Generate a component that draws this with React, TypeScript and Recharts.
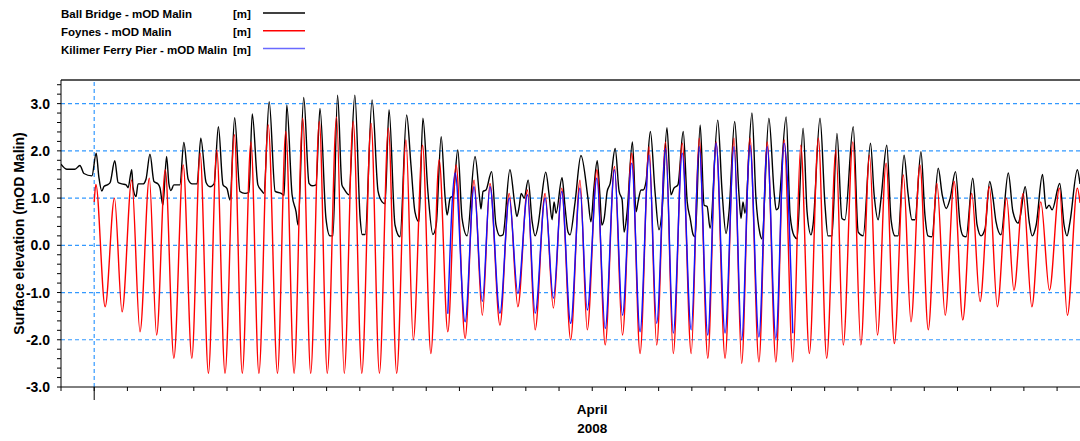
import { LineChart, Line, XAxis, YAxis, ReferenceLine } from 'recharts'

// time axis: days since 16 March 2008 00:00
const X_END = 30.69

// Ball Bridge - mOD Malin
const ballBridgeT = [
  0.0, 0.18, 0.42, 0.57, 0.69, 0.93, 1.06, 1.14, 1.23, 1.3, 1.42, 1.48, 1.62, 1.72, 1.84, 1.96, 2.02, 2.13,
  2.17, 2.26, 2.32, 2.47, 2.56, 2.68, 2.8, 2.92, 2.98, 3.07, 3.18, 3.25, 3.31, 3.4, 3.58, 3.7, 3.83, 3.95,
  4.1, 4.21, 4.37, 4.49, 4.61, 4.74, 4.88, 5.0, 5.09, 5.23, 5.39, 5.54, 5.66, 5.76, 5.93, 6.05, 6.11, 6.27,
  6.45, 6.63, 6.72, 6.8, 6.96, 7.08, 7.14, 7.31, 7.47, 7.56, 7.68, 7.8, 7.98, 8.1, 8.19, 8.33, 8.46, 8.52,
  8.67, 8.85, 9.01, 9.07, 9.16, 9.37, 9.55, 9.67, 9.76, 9.88, 10.06, 10.21, 10.41, 10.54, 10.66, 10.78,
  10.9, 11.05, 11.2, 11.3, 11.45, 11.57, 11.63, 11.72, 11.81, 11.95, 12.08, 12.23, 12.47, 12.62, 12.65,
  12.71, 12.8, 12.97, 13.1, 13.22, 13.31, 13.52, 13.67, 13.73, 13.8, 13.86, 13.95, 14.07, 14.19, 14.28,
  14.37, 14.46, 14.6, 14.7, 14.79, 14.85, 14.91, 15.09, 15.18, 15.27, 15.33, 15.48, 15.66, 15.87, 15.96,
  16.05, 16.15, 16.23, 16.29, 16.36, 16.45, 16.54, 16.69, 16.81, 16.9, 16.96, 17.05, 17.21, 17.32, 17.38,
  17.47, 17.53, 17.62, 17.75, 17.89, 18.01, 18.1, 18.25, 18.37, 18.46, 18.58, 18.74, 18.86, 18.95, 19.04,
  19.1, 19.25, 19.37, 19.46, 19.55, 19.78, 19.91, 20.03, 20.12, 20.29, 20.42, 20.48, 20.54, 20.6, 20.81,
  20.93, 21.05, 21.11, 21.32, 21.48, 21.54, 21.6, 21.84, 21.96, 22.08, 22.17, 22.35, 22.47, 22.59, 22.65,
  22.86, 23.01, 23.1, 23.22, 23.37, 23.52, 23.61, 23.86, 24.01, 24.16, 24.38, 24.49, 24.61, 24.7, 24.87,
  25.0, 25.12, 25.21, 25.39, 25.51, 25.63, 25.72, 25.9, 26.02, 26.11, 26.23, 26.42, 26.54, 26.66, 26.78,
  26.94, 27.08, 27.17, 27.26, 27.46, 27.59, 27.71, 27.83, 27.97, 28.07, 28.16, 28.31, 28.53, 28.67, 28.83,
  28.89, 29.04, 29.16, 29.25, 29.37, 29.56, 29.67, 29.76, 29.85, 30.08, 30.21, 30.3, 30.39, 30.61, 30.69,
]
const ballBridgeV = [
  1.72, 1.61, 1.61, 1.69, 1.52, 1.47, 1.95, 1.45, 1.15, 1.25, 1.29, 1.33, 1.79, 1.33, 1.3, 1.28, 1.22, 1.6,
  1.22, 1.03, 1.3, 1.3, 1.4, 1.93, 1.35, 1.3, 1.22, 0.85, 1.88, 1.3, 1.16, 1.28, 1.28, 2.18, 1.4, 1.3,
  1.3, 2.27, 1.33, 1.24, 1.3, 2.51, 1.28, 1.2, 0.96, 2.7, 1.14, 1.1, 1.12, 2.78, 1.28, 1.15, 1.1, 3.04,
  1.14, 1.1, 1.06, 2.97, 1.07, 0.71, 0.43, 3.13, 1.31, 1.26, 1.28, 2.9, 0.57, 0.2, 0.2, 3.18, 1.28, 1.2,
  1.07, 3.18, 0.57, 0.23, 0.23, 3.08, 1.14, 0.92, 0.88, 2.87, 0.43, 0.18, 2.76, 1.7, 0.71, 0.5,
  2.69, 1.14, 0.23, 0.43, 2.3, 1.0, 0.64, 1.0, 1.05, 2.02, 0.57, 0.2, 1.88, 0.92, 0.77,
  1.14, 1.17, 1.56, 0.43, 0.2, 0.22, 1.6, 0.85, 0.61, 0.82, 1.1, 1.0, 1.38, 0.5, 0.2,
  0.43, 0.92, 1.55, 1.07, 0.54, 0.92, 0.68, 1.43, 0.82, 0.28, 0.22, 0.9, 1.9, 1.0, 0.5,
  1.21, 1.79, 1.07, 0.43, 0.57, 1.14, 1.31, 2.05, 1.14, 0.96, 0.28, 0.71, 2.19, 0.71, 0.92,
  1.17, 1.17, 1.35, 2.41, 1.14, 0.33, 0.71, 2.49, 1.07, 1.21, 1.28, 2.41, 0.92, 0.57, 0.22,
  0.18, 2.55, 0.85, 0.82, 0.36, 2.65, 1.14, 0.25, 0.71, 2.62, 1.07, 0.57, 0.92, 0.68, 2.8,
  1.0, 0.25, 0.14, 2.69, 1.1, 0.75, 0.78, 2.72, 0.64, 0.2, 0.14, 2.48, 0.71, 0.22, 0.43,
  2.69, 0.85, 0.2, 0.2, 2.37, 0.57, 0.54, 2.51, 0.28, 0.2, 2.16, 1.07, 0.54, 1.0, 2.12,
  0.54, 0.2, 0.2, 1.91, 1.1, 0.54, 0.54, 1.98, 0.64, 0.2, 0.18, 1.63, 1.07, 0.78, 1.0,
  1.56, 0.43, 0.2, 0.18, 1.42, 0.43, 0.2, 0.35, 1.35, 1.0, 0.5, 0.22, 1.53, 0.71, 0.47,
  0.61, 1.24, 0.5, 0.2, 0.43, 1.5, 0.78, 0.85, 0.75, 1.31, 0.43, 0.2, 0.5, 1.6, 1.3,
]

// Foynes - mOD Malin (high / low waters)
const foynesT = [
  1.0, 1.05, 1.33, 1.61, 1.84, 2.13, 2.38, 2.66, 2.88, 3.14, 3.4, 3.68, 3.94, 4.19, 4.44, 4.69, 4.94, 5.22,
  5.46, 5.72, 5.96, 6.24, 6.52, 6.77, 7.02, 7.28, 7.52, 7.78, 8.02, 8.3, 8.53, 8.8, 9.06, 9.34, 9.59, 9.86,
  10.11, 10.39, 10.61, 10.89, 11.14, 11.39, 11.65, 11.9, 12.17, 12.44, 12.69, 12.92, 13.22, 13.5, 13.76,
  14.05, 14.28, 14.58, 14.83, 15.08, 15.35, 15.63, 15.85, 16.14, 16.39, 16.67, 16.91, 17.19, 17.44, 17.71,
  17.94, 18.21, 18.44, 18.71, 18.98, 19.22, 19.48, 19.73, 20.0, 20.27, 20.5, 20.75, 21.02, 21.27, 21.53,
  21.78, 22.04, 22.28, 22.54, 22.81, 23.06, 23.34, 23.56, 23.85, 24.09, 24.35, 24.59, 24.85, 25.1, 25.37,
  25.6, 25.87, 26.12, 26.38, 26.63, 26.9, 27.16, 27.43, 27.68, 27.96, 28.2, 28.48, 28.7, 28.98, 29.24,
  29.51, 29.77, 30.07, 30.31, 30.61, 30.69,
]
const foynesV = [
  0.92, 1.29, -1.3, 1.0, -1.41, 1.38, -1.83, 1.42, -1.9, 1.6, -2.39, 1.7, -2.39, 1.95, -2.71, 2.02, -2.71, 2.34,
  -2.71, 2.19, -2.71, 2.55, -2.71, 2.41, -2.71, 2.69, -2.71, 2.62, -2.71, 2.72, -2.71, 2.62, -2.71, 2.58, -2.71, 2.48,
  -2.71, 2.23, -2.0, 2.12, -2.29, 1.81, -1.83, 1.7, -1.97, 1.38, -1.48, 1.31, -1.69, 1.1, -1.3,
  1.17, -1.79, 1.1, -1.33, 1.21, -2.0, 1.38, -1.79, 1.6, -2.11, 1.67, -1.9, 1.95, -2.29, 2.09,
  -2.11, 2.19, -2.29, 2.16, -2.29, 2.27, -2.39, 2.19, -2.39, 2.27, -2.5, 2.27, -2.47, 2.19, -2.47,
  2.23, -2.47, 2.12, -2.29, 2.27, -2.39, 2.02, -2.11, 2.19, -2.11, 1.91, -1.9, 1.74, -2.08, 1.49,
  -1.62, 1.7, -1.79, 1.31, -1.48, 1.35, -1.58, 1.1, -1.19, 1.24, -1.3, 1.0, -0.95, 1.1, -1.3,
  0.92, -0.95, 1.21, -1.48, 1.21, 0.9,
]

// Kilimer Ferry Pier - mOD Malin
const kilimerT = [
  11.65, 11.87, 12.17, 12.44, 12.69, 12.92, 13.22, 13.5, 13.76, 14.05, 14.28, 14.58, 14.83, 15.08, 15.35,
  15.63, 15.85, 16.14, 16.39, 16.67, 16.91, 17.19, 17.44, 17.71, 17.94, 18.21, 18.44, 18.71, 18.98, 19.22,
  19.48, 19.73, 20.0, 20.27, 20.5, 20.75, 21.02, 21.27, 21.53, 21.78, 22.04,
]
const kilimerV = [
  -1.45, 1.53, -1.62, 1.24, -1.19, 1.24, -1.44, 1.0, -1.02, 1.07, -1.44, 1.0, -1.12, 1.14, -1.65,
  1.21, -1.37, 1.42, -1.76, 1.6, -1.48, 1.74, -1.83, 1.91, -1.65, 2.05, -1.86, 1.95, -1.79, 2.09,
  -1.9, 2.16, -1.86, 2.09, -2.0, 2.12, -1.94, 2.09, -1.97, 2.16, -1.86,
]

const xTicks = [0, 1, 2, 3, 4, 5, 6, 7, 8, 9, 10, 11, 12, 13, 14, 15, 16, 17, 18, 19, 20, 21, 22, 23, 24, 25, 26, 27, 28, 29, 30]
const yTicks = [
  -3.0, -2.8, -2.6, -2.4, -2.2, -2.0, -1.8, -1.6, -1.4, -1.2, -1.0, -0.8, -0.6, -0.4, -0.2, 0.0,
  0.2, 0.4, 0.6, 0.8, 1.0, 1.2, 1.4, 1.6, 1.8, 2.0, 2.2, 2.4, 2.6, 2.8, 3.0, 3.2, 3.4,
]
const gridY = [-2, -1, 0, 1, 2, 3]

const FONT = '"Liberation Sans", Arial, sans-serif'
const GRID = '#3399ff'

const zip = (t: number[], v: number[]) => t.map((x, i) => ({ t: x, v: v[i] }))

const series = [
  { name: 'Ball Bridge - mOD Malin', color: '#000000', legendColor: '#000000', data: zip(ballBridgeT, ballBridgeV) },
  { name: 'Foynes - mOD Malin', color: '#ff0000', legendColor: '#ff0000', data: zip(foynesT, foynesV) },
  { name: 'Kilimer Ferry Pier - mOD Malin', color: '#1010ff', legendColor: '#6a6aff', data: zip(kilimerT, kilimerV) },
]

function XTick(props: any) {
  const { x, y, payload } = props
  const v = payload?.value
  return (
    <g>
      {v === 1 && <line x1={x} y1={y - 4} x2={x} y2={y + 9} stroke="#000" strokeWidth={1} />}
      {v === 16 && (
        <text x={x} textAnchor="middle" fontFamily={FONT} fontWeight="bold" fontSize={13.5} fill="#000">
          <tspan x={x} y={y + 23}>April</tspan>
          <tspan x={x} y={y + 42}>2008</tspan>
        </text>
      )}
    </g>
  )
}

function Legend() {
  return (
    <svg width={320} height={60} style={{ position: 'absolute', left: 0, top: 0 }}>
      {series.map((s, i) => {
        const base = 18 + i * 17.8
        return (
          <g key={s.name} fontFamily={FONT} fontWeight="bold" fontSize={11.5} fill="#000">
            <text x={61} y={base}>{s.name}</text>
            <text x={233} y={base}>[m]</text>
            <line x1={263} x2={305} y1={base - 5} y2={base - 5} stroke={s.legendColor} strokeWidth={1.5} />
          </g>
        )
      })}
    </svg>
  )
}

export default function App() {
  return (
    <div style={{ position: 'absolute', left: 0, top: 0, width: 1080, height: 441, background: '#fff', overflow: 'hidden' }}>
      <Legend />
      <LineChart width={1080} height={441} margin={{ top: 80, right: 0, bottom: 0, left: 0 }}>
        <XAxis
          type="number"
          dataKey="t"
          domain={[0, X_END]}
          allowDataOverflow
          ticks={xTicks}
          interval={0}
          tickSize={4}
          tickMargin={0}
          height={54}
          stroke="#000"
          tickLine={{ stroke: '#000' }}
          tick={<XTick />}
        />
        <YAxis
          type="number"
          domain={[-3, 3.5]}
          allowDataOverflow
          ticks={yTicks}
          interval={0}
          width={61}
          tickSize={4}
          tickMargin={7}
          stroke="#000"
          tickLine={{ stroke: '#000' }}
          tickFormatter={(v: number) => (Math.abs(v - Math.round(v)) < 1e-6 ? v.toFixed(1) : '')}
          tick={{ fontFamily: FONT, fontWeight: 'bold', fontSize: 14, fill: '#000' }}
          label={{
            value: 'Surface elevation (mOD Malin)',
            angle: -90,
            position: 'insideLeft',
            offset: 0,
            dx: 19,
            style: { fontFamily: FONT, fontWeight: 'bold', fontSize: 14, fill: '#000', textAnchor: 'middle' },
          }}
        />
        {gridY.map((g) => (
          <ReferenceLine key={g} y={g} stroke={GRID} strokeWidth={1.2} strokeDasharray="4 3" />
        ))}
        <ReferenceLine x={1} stroke={GRID} strokeWidth={1.2} strokeDasharray="4 3" />
        <ReferenceLine y={3.5} stroke="#222" strokeWidth={1.5} />
        {series.map((s) => (
          <Line
            key={s.name}
            data={s.data}
            dataKey="v"
            name={s.name}
            type="monotone"
            stroke={s.color}
            strokeWidth={1.4}
            dot={false}
            activeDot={false}
            isAnimationActive={false}
          />
        ))}
      </LineChart>
    </div>
  )
}
